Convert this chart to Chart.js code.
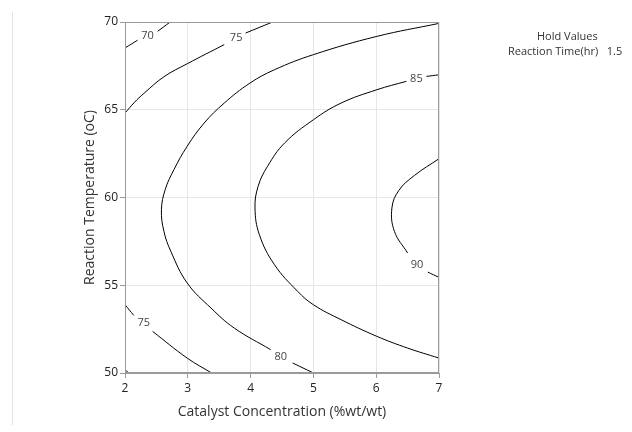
<!DOCTYPE html>
<html lang="en">
<head>
  <meta charset="UTF-8">
  <title>Contour Plot</title>
  <script src="https://cdn.jsdelivr.net/npm/chart.js"></script>
  <style>
    body {
      margin: 0;
      background: #fff;
      font-family: 'Open Sans', sans-serif;
    }
    #wrap {
      position: relative;
      width: 632px;
      height: 432px;
    }
    #sep {
      position: absolute;
      left: 12px;
      top: 12px;
      width: 1px;
      height: 413px;
      background: #e2e2e2;
    }
    .hold {
      position: absolute;
      font-size: 11px;
      color: #333;
      white-space: nowrap;
    }
  </style>
</head>
<body>
  <div id="wrap">
    <canvas id="contour" width="632" height="432"></canvas>
    <div id="sep"></div>
    <div class="hold" style="left:537px; top:28px;">Hold Values</div>
    <div class="hold" style="left:508px; top:43px;">Reaction Time(hr)&nbsp;&nbsp;&nbsp;1.5</div>
  </div>
  <script>
    // axis ticks
    const xTicks = [2, 3, 4, 5, 6, 7];
    const yTicks = [50, 55, 60, 65, 70];

    // contour segments, [catalyst, temperature]
    const c70top = [[2, 68.52], [2.2, 68.96]];
    const c70topB = [[2.52, 69.47], [2.72, 70]];
    const c70corner = [[2, 50.19], [2.06, 50]];
    const c75up = [[2, 64.81], [2.15, 65.42], [2.3, 65.93], [2.62, 66.88], [2.99, 67.62], [3.58, 68.71]];
    const c75upB = [[3.92, 69.37], [4.35, 70]];
    const c75low = [[2, 53.89], [2.14, 53.28]];
    const c75lowB = [[2.44, 52.37], [2.99, 50.85], [3.38, 50]];
    const c80 = [[7, 69.92], [6.01, 69.18], [5.0, 68.14], [4.38, 67.28], [3.99, 66.52], [3.58, 65.38],
      [3.26, 64.24], [2.99, 62.92], [2.78, 61.59], [2.64, 60.45], [2.58, 59.3],
      [2.62, 58.07], [2.73, 56.93], [2.99, 55.13], [3.37, 53.7], [3.74, 52.56], [4.32, 51.33]];
    const c80B = [[4.67, 50.57], [5.0, 50]];
    const c85 = [[7, 66.99], [6.8, 66.9]];
    const c85B = [[6.48, 66.62], [6.01, 66.14], [5.44, 65.38], [5.0, 64.43], [4.54, 63.1], [4.27, 61.78],
      [4.12, 60.64], [4.07, 59.4], [4.14, 57.88], [4.38, 56.17], [4.75, 54.65],
      [5.0, 53.89], [5.44, 53.04], [6.01, 52.09], [6.5, 51.42], [7, 50.85]];
    const c90 = [[7, 62.21], [6.61, 61.26], [6.36, 60.4], [6.25, 59.4], [6.29, 58.07], [6.5, 56.84]];
    const c90B = [[6.82, 55.75], [7, 55.45]];

    // contour labels: value and where it sits
    const labelText = ['70', '75', '75', '80', '85', '90'];
    const labelX = [2.36, 3.77, 2.3, 4.48, 6.64, 6.65];
    const labelY = [69.22, 69.12, 52.85, 50.91, 66.75, 56.17];

    const segments = [c70top, c70topB, c70corner, c75up, c75upB, c75low, c75lowB, c80, c80B, c85, c85B, c90, c90B];

    const datasets = segments.map(seg => ({
      data: seg.map(p => ({ x: p[0], y: p[1] })),
      showLine: true,
      borderColor: '#000',
      borderWidth: 1,
      pointRadius: 0,
      tension: 0.4
    }));

    const frame = {
      id: 'frame',
      afterDatasetsDraw(chart) {
        const a = chart.chartArea;
        const ctx = chart.ctx;
        ctx.save();
        ctx.strokeStyle = '#9a9a9a';
        ctx.lineWidth = 1;
        ctx.strokeRect(Math.round(a.left) + 0.5, Math.round(a.top) + 0.5,
          Math.round(a.right - a.left) - 1, Math.round(a.bottom - a.top) - 1);
        ctx.restore();
      }
    };

    const contourLabels = {
      id: 'contourLabels',
      afterDatasetsDraw(chart) {
        const ctx = chart.ctx;
        const xs = chart.scales.x, ys = chart.scales.y;
        ctx.save();
        ctx.font = '11px "Open Sans", sans-serif';
        ctx.fillStyle = '#444';
        ctx.textAlign = 'center';
        ctx.textBaseline = 'middle';
        labelText.forEach((t, i) => {
          ctx.fillText(t, xs.getPixelForValue(labelX[i]), ys.getPixelForValue(labelY[i]));
        });
        ctx.restore();
      }
    };

    new Chart(document.getElementById('contour'), {
      type: 'scatter',
      data: { datasets },
      plugins: [frame, contourLabels],
      options: {
        responsive: false,
        animation: false,
        layout: { padding: { left: 78, top: 22, right: 193, bottom: 8 } },
        plugins: {
          legend: { display: false },
          tooltip: { enabled: false }
        },
        scales: {
          x: {
            type: 'linear',
            min: 2,
            max: 7,
            afterBuildTicks: s => { s.ticks = xTicks.map(v => ({ value: v })); },
            afterFit: s => { s.height = 51; },
            grid: { color: '#e6e6e6', tickColor: '#9a9a9a', tickLength: 5 },
            border: { color: '#9a9a9a' },
            ticks: { color: '#222', font: { size: 12, family: 'Open Sans' }, padding: 3 },
            title: {
              display: true,
              text: 'Catalyst Concentration (%wt/wt)',
              color: '#333',
              font: { size: 14, family: 'Open Sans' },
              padding: { top: 0, bottom: 4 }
            }
          },
          y: {
            type: 'linear',
            min: 50,
            max: 70,
            afterBuildTicks: s => { s.ticks = yTicks.map(v => ({ value: v })); },
            afterFit: s => { s.width = 47; },
            grid: { color: '#e6e6e6', tickColor: '#9a9a9a', tickLength: 5 },
            border: { color: '#9a9a9a' },
            ticks: { color: '#222', font: { size: 12, family: 'Open Sans' }, padding: 2 },
            title: {
              display: true,
              text: 'Reaction Temperature (oC)',
              color: '#333',
              font: { size: 14, family: 'Open Sans' },
              padding: { top: 4, bottom: 0 }
            }
          }
        }
      }
    });
  </script>
</body>
</html>
